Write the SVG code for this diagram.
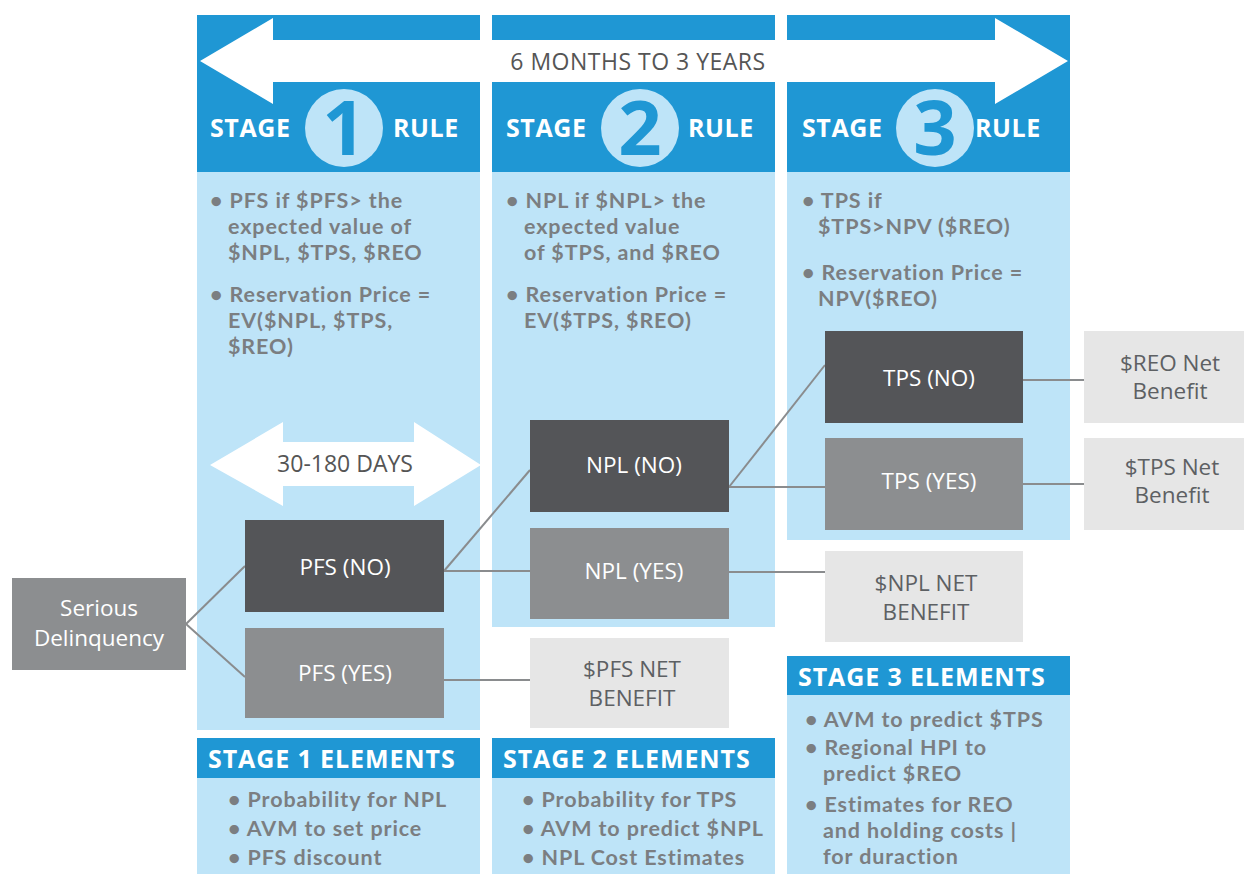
<svg xmlns="http://www.w3.org/2000/svg" width="1244" height="874" viewBox="0 0 1244 874">
<style>
.hdr{fill:#1f97d4}
.body{fill:#bee4f8}
.hd{font-family:"Open Sans","Liberation Sans",sans-serif;font-weight:bold;fill:#fff;font-size:25px;letter-spacing:0.6px}
.eh{font-family:"Open Sans","Liberation Sans",sans-serif;font-weight:bold;fill:#fff;font-size:25px;letter-spacing:0.9px}
.num{font-family:"Open Sans","Liberation Sans",sans-serif;font-weight:bold;fill:#1f97d4;font-size:76px;text-anchor:middle}
.bt{font-family:Lato,"Liberation Sans",sans-serif;font-weight:bold;fill:#7b7e81;font-size:21.5px;letter-spacing:0.9px}
.nt{font-family:"Open Sans","Liberation Sans",sans-serif;fill:#fff;font-size:22.5px;text-anchor:middle}
.gt{font-family:"Open Sans","Liberation Sans",sans-serif;fill:#5d6063;font-size:22.5px;text-anchor:middle}
.dark{fill:#545558}
.mid{fill:#8c8e90}
.light{fill:#e6e6e6}
.con{stroke:#8a8c8e;stroke-width:2;fill:none}
</style>
<rect width="1244" height="874" fill="#fff"/>

<g id="columns">
<rect class="hdr" x="197" y="15" width="283" height="157"/>
<rect class="body" x="197" y="172" width="283" height="558"/>
<rect class="hdr" x="492" y="15" width="283" height="157"/>
<rect class="body" x="492" y="172" width="283" height="455"/>
<rect class="hdr" x="787" y="15" width="283" height="157"/>
<rect class="body" x="787" y="172" width="283" height="368"/>
</g>

<g id="timeline">
<polygon fill="#fff" points="200,61 273,18 273,40 995,40 995,18 1068,61 995,104 995,82 273,82 273,104"/>
<text x="638" y="70" text-anchor="middle" font-family="Open Sans, Liberation Sans, sans-serif" font-size="23" letter-spacing="0.5" fill="#555">6 MONTHS TO 3 YEARS</text>
</g>

<g id="stage1-head">
<text class="hd" x="210" y="137">STAGE</text>
<circle cx="344" cy="128" r="39" fill="#bee4f8"/>
<text class="num" x="344" y="155">1</text>
<text class="hd" x="393" y="137">RULE</text>
</g>
<g id="stage2-head">
<text class="hd" x="506" y="137">STAGE</text>
<circle cx="640" cy="128" r="39" fill="#bee4f8"/>
<text class="num" x="640" y="155">2</text>
<text class="hd" x="688" y="137">RULE</text>
</g>
<g id="stage3-head">
<text class="hd" x="802" y="137">STAGE</text>
<circle cx="935" cy="128" r="39" fill="#bee4f8"/>
<text class="num" x="935" y="155">3</text>
<text class="hd" x="975" y="137">RULE</text>
</g>

<g id="stage1-rule">
<text class="bt" x="210" y="208">• PFS if $PFS&gt; the</text>
<text class="bt" x="228" y="234">expected value of</text>
<text class="bt" x="228" y="260">$NPL, $TPS, $REO</text>
<text class="bt" x="210" y="302">• Reservation Price =</text>
<text class="bt" x="228" y="328">EV($NPL, $TPS,</text>
<text class="bt" x="228" y="354">$REO)</text>
</g>
<g id="stage2-rule">
<text class="bt" x="506" y="208">• NPL if $NPL&gt; the</text>
<text class="bt" x="524" y="234">expected value</text>
<text class="bt" x="524" y="260">of $TPS, and $REO</text>
<text class="bt" x="506" y="302">• Reservation Price =</text>
<text class="bt" x="524" y="328">EV($TPS, $REO)</text>
</g>
<g id="stage3-rule">
<text class="bt" x="802" y="208">• TPS if</text>
<text class="bt" x="818" y="234">$TPS&gt;NPV ($REO)</text>
<text class="bt" x="802" y="280">• Reservation Price =</text>
<text class="bt" x="818" y="306">NPV($REO)</text>
</g>

<g id="days">
<polygon fill="#fff" points="210,465 283,422 283,442 414,442 414,422 481,465 414,506 414,486 283,486 283,506"/>
<text x="345" y="472" text-anchor="middle" font-family="Open Sans, Liberation Sans, sans-serif" font-size="23" fill="#555">30-180 DAYS</text>
</g>

<g id="connectors">
<line class="con" x1="186" y1="624" x2="245" y2="566"/>
<line class="con" x1="186" y1="624" x2="245" y2="677"/>
<line class="con" x1="444" y1="571" x2="530" y2="470"/>
<line class="con" x1="444" y1="571" x2="530" y2="571"/>
<line class="con" x1="444" y1="680" x2="530" y2="680"/>
<line class="con" x1="729" y1="487" x2="825" y2="365"/>
<line class="con" x1="729" y1="487" x2="825" y2="487"/>
<line class="con" x1="729" y1="572" x2="825" y2="572"/>
<line class="con" x1="1023" y1="380" x2="1084" y2="380"/>
<line class="con" x1="1023" y1="484" x2="1084" y2="484"/>
</g>

<g id="serious">
<rect class="mid" x="12" y="578" width="174" height="92"/>
<text class="nt" x="99" y="616">Serious</text>
<text class="nt" x="99" y="646">Delinquency</text>
</g>
<g id="pfs-no">
<rect class="dark" x="245" y="520" width="199" height="92"/>
<text class="nt" x="345" y="575">PFS (NO)</text>
</g>
<g id="pfs-yes">
<rect class="mid" x="245" y="628" width="199" height="90"/>
<text class="nt" x="345" y="681">PFS (YES)</text>
</g>
<g id="npl-no">
<rect class="dark" x="530" y="420" width="199" height="92"/>
<text class="nt" x="634" y="473">NPL (NO)</text>
</g>
<g id="npl-yes">
<rect class="mid" x="530" y="528" width="199" height="91"/>
<text class="nt" x="634" y="579">NPL (YES)</text>
</g>
<g id="tps-no">
<rect class="dark" x="825" y="331" width="198" height="92"/>
<text class="nt" x="929" y="386">TPS (NO)</text>
</g>
<g id="tps-yes">
<rect class="mid" x="825" y="438" width="198" height="92"/>
<text class="nt" x="929" y="489">TPS (YES)</text>
</g>
<g id="reo-benefit">
<rect class="light" x="1084" y="331" width="160" height="92"/>
<text class="gt" x="1170" y="371">$REO Net</text>
<text class="gt" x="1170" y="399">Benefit</text>
</g>
<g id="tps-benefit">
<rect class="light" x="1084" y="438" width="160" height="92"/>
<text class="gt" x="1172" y="475">$TPS Net</text>
<text class="gt" x="1172" y="503">Benefit</text>
</g>
<g id="npl-benefit">
<rect class="light" x="825" y="551" width="198" height="91"/>
<text class="gt" x="926" y="591">$NPL NET</text>
<text class="gt" x="926" y="620">BENEFIT</text>
</g>
<g id="pfs-benefit">
<rect class="light" x="530" y="638" width="199" height="90"/>
<text class="gt" x="632" y="677">$PFS NET</text>
<text class="gt" x="632" y="706">BENEFIT</text>
</g>

<g id="stage1-elements">
<rect class="hdr" x="197" y="738" width="283" height="40"/>
<rect class="body" x="197" y="778" width="283" height="96"/>
<text class="eh" x="208" y="768">STAGE 1 ELEMENTS</text>
<text class="bt" x="228" y="807">• Probability for NPL</text>
<text class="bt" x="228" y="836">• AVM to set price</text>
<text class="bt" x="228" y="865">• PFS discount</text>
</g>
<g id="stage2-elements">
<rect class="hdr" x="492" y="738" width="283" height="40"/>
<rect class="body" x="492" y="778" width="283" height="96"/>
<text class="eh" x="503" y="768">STAGE 2 ELEMENTS</text>
<text class="bt" x="522" y="807">• Probability for TPS</text>
<text class="bt" x="522" y="836">• AVM to predict $NPL</text>
<text class="bt" x="522" y="865">• NPL Cost Estimates</text>
</g>
<g id="stage3-elements">
<rect class="hdr" x="787" y="656" width="283" height="39"/>
<rect class="body" x="787" y="695" width="283" height="179"/>
<text class="eh" x="798" y="686">STAGE 3 ELEMENTS</text>
<text class="bt" x="805" y="727">• AVM to predict $TPS</text>
<text class="bt" x="805" y="755">• Regional HPI to</text>
<text class="bt" x="823" y="781">predict $REO</text>
<text class="bt" x="805" y="812">• Estimates for REO</text>
<text class="bt" x="823" y="838">and holding costs |</text>
<text class="bt" x="823" y="864">for duraction</text>
</g>
</svg>
